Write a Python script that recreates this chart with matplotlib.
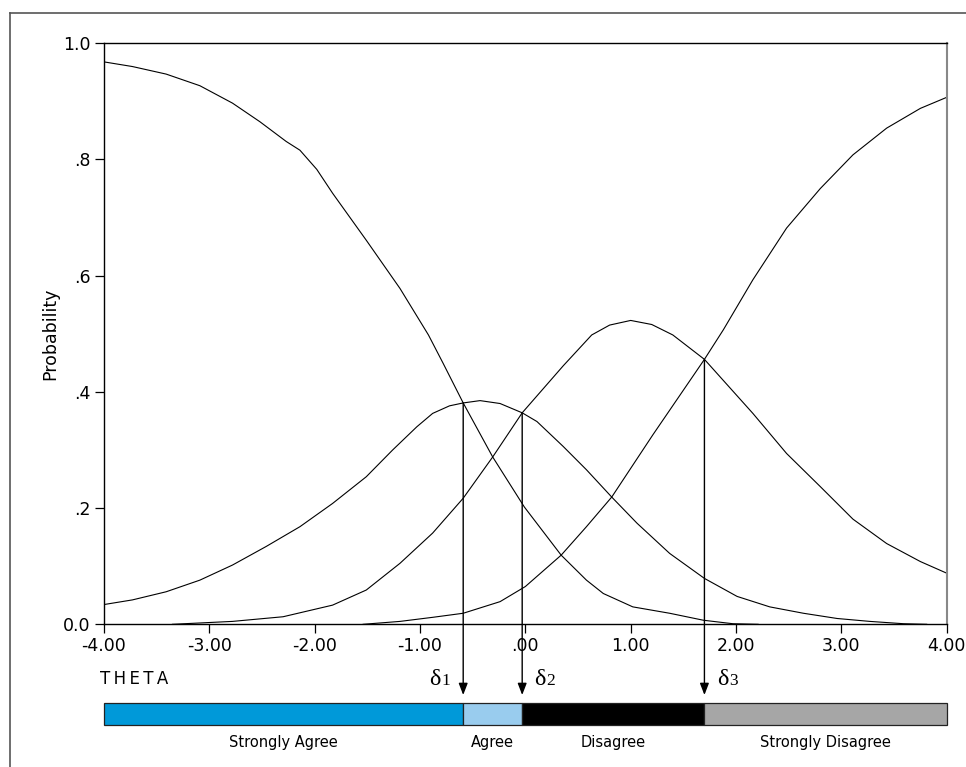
import matplotlib
matplotlib.use("Agg")
import matplotlib.pyplot as plt
from matplotlib.lines import Line2D

# category probability curves
theta_sa = [-4.0, -3.73, -3.41, -3.09, -2.78, -2.52, -2.27, -2.14, -1.98, -1.83, -1.51, -1.19,
            -0.92, -0.78, -0.59, -0.31, -0.01, 0.34, 0.58, 0.74, 1.02, 1.37, 1.69, 1.97, 2.21]
prob_sa = [0.968, 0.960, 0.947, 0.927, 0.897, 0.865, 0.831, 0.816, 0.783, 0.742, 0.661, 0.578,
           0.498, 0.449, 0.381, 0.288, 0.202, 0.119, 0.076, 0.053, 0.030, 0.019, 0.007, 0.001, 0.0]

theta_a = [-4.0, -3.73, -3.41, -3.09, -2.78, -2.46, -2.14, -1.83, -1.51, -1.26, -1.03, -0.88,
           -0.72, -0.59, -0.43, -0.24, -0.03, 0.11, 0.36, 0.58, 0.82, 1.06, 1.37, 1.70, 2.01,
           2.32, 2.64, 2.96, 3.27, 3.59, 3.81]
prob_a = [0.034, 0.042, 0.056, 0.076, 0.102, 0.134, 0.168, 0.208, 0.254, 0.300, 0.340, 0.363,
          0.376, 0.381, 0.385, 0.380, 0.364, 0.349, 0.306, 0.266, 0.219, 0.174, 0.122, 0.079,
          0.048, 0.030, 0.019, 0.010, 0.005, 0.001, 0.0]

theta_d = [-3.35, -2.78, -2.30, -1.83, -1.51, -1.19, -0.88, -0.59, -0.31, -0.03, 0.36, 0.63,
           0.80, 1.0, 1.20, 1.40, 1.70, 2.16, 2.48, 2.80, 3.11, 3.43, 3.75, 4.0]
prob_d = [0.0, 0.005, 0.013, 0.033, 0.059, 0.105, 0.157, 0.217, 0.288, 0.364, 0.445, 0.498,
          0.515, 0.523, 0.516, 0.498, 0.456, 0.363, 0.294, 0.237, 0.181, 0.139, 0.108, 0.088]

theta_sd = [-1.54, -1.19, -0.88, -0.59, -0.24, 0.0, 0.34, 0.58, 0.82, 1.21, 1.70, 1.88, 2.16,
            2.48, 2.80, 3.11, 3.43, 3.75, 4.0]
prob_sd = [0.0, 0.005, 0.012, 0.019, 0.039, 0.065, 0.119, 0.168, 0.219, 0.326, 0.456, 0.507,
           0.593, 0.682, 0.750, 0.808, 0.854, 0.888, 0.907]

# thresholds (crossing points)
thresholds = [-0.59, -0.03, 1.70]
cross_prob = [0.381, 0.364, 0.456]

categories = ["Strongly Agree", "Agree", "Disagree", "Strongly Disagree"]
cat_colors = ["#0099d9", "#99ccee", "#000000", "#a6a6a6"]

xticks = [-4, -3, -2, -1, 0, 1, 2, 3, 4]
xticklabels = ["-4.00", "-3.00", "-2.00", "-1.00", ".00", "1.00", "2.00", "3.00", "4.00"]
yticks = [0.0, 0.2, 0.4, 0.6, 0.8, 1.0]
yticklabels = ["0.0", ".2", ".4", ".6", ".8", "1.0"]

W, H = 966, 767
fig = plt.figure(figsize=(W / 100, H / 100), dpi=100)
ax = fig.add_axes([104 / W, 1 - 624.3 / H, (946.7 - 104) / W, (624.3 - 43.3) / H])

for th, pr in [(theta_sa, prob_sa), (theta_a, prob_a), (theta_d, prob_d), (theta_sd, prob_sd)]:
    ax.plot(th, pr, color="k", lw=0.8)

ax.set_xlim(-4, 4)
ax.set_ylim(0, 1)
ax.set_xticks(xticks)
ax.set_xticklabels(xticklabels)
ax.set_yticks(yticks)
ax.set_yticklabels(yticklabels)
ax.tick_params(direction="out", length=6.5, width=0.9, labelsize=12.5, pad=3, colors="k")
ax.set_ylabel("Probability", fontsize=12.5, labelpad=3)
for s in ["left", "bottom", "top"]:
    ax.spines[s].set_linewidth(1.0)
ax.spines["right"].set_color("#888888")
ax.spines["right"].set_linewidth(1.5)

# arrows from crossing points down to the bar
for t, p in zip(thresholds, cross_prob):
    ax.annotate("", xy=(t, -0.1217), xytext=(t, p), annotation_clip=False,
                arrowprops=dict(arrowstyle="-|>,head_length=7,head_width=2.7",
                                mutation_scale=1, color="k", lw=1.0,
                                shrinkA=0, shrinkB=0))

# delta labels
dx = [-0.32, 0.11, 0.12]
for i, t in enumerate(thresholds):
    ax.text(t + dx[i], -0.1045, "δ", fontsize=17.5, family="Liberation Serif",
            ha="left", va="baseline", clip_on=False)
    ax.text(t + dx[i] + 0.118, -0.1045, str(i + 1), fontsize=12.5, family="Liberation Serif",
            ha="left", va="baseline", clip_on=False)

ax.text(-4.04, -0.103, "T\u2009H\u2009E\u2009T\u2009A", fontsize=12, ha="left",
        va="baseline", clip_on=False)

# category bar
edges = [-4.0] + thresholds + [4.0]
lefts = edges[:-1]
widths = [edges[i + 1] - edges[i] for i in range(4)]
ax.barh([-0.154] * 4, widths, left=lefts, height=0.0383, color=cat_colors,
        edgecolor="#222222", linewidth=0.9, clip_on=False)
for i, name in enumerate(categories):
    ax.text(lefts[i] + widths[i] / 2, -0.2117, name, fontsize=10.5, ha="center",
            va="baseline", clip_on=False)
ax.set_xlim(-4, 4)
ax.set_ylim(0, 1)

# outer frame (cut by the image edge)
fig.add_artist(Line2D([10 / W, 10 / W], [0, 1 - 13 / H], transform=fig.transFigure,
                      color="#555555", lw=1.2))
fig.add_artist(Line2D([10 / W, 1], [1 - 13 / H, 1 - 13 / H], transform=fig.transFigure,
                      color="#555555", lw=1.2))

fig.savefig("out.png", dpi=100)
